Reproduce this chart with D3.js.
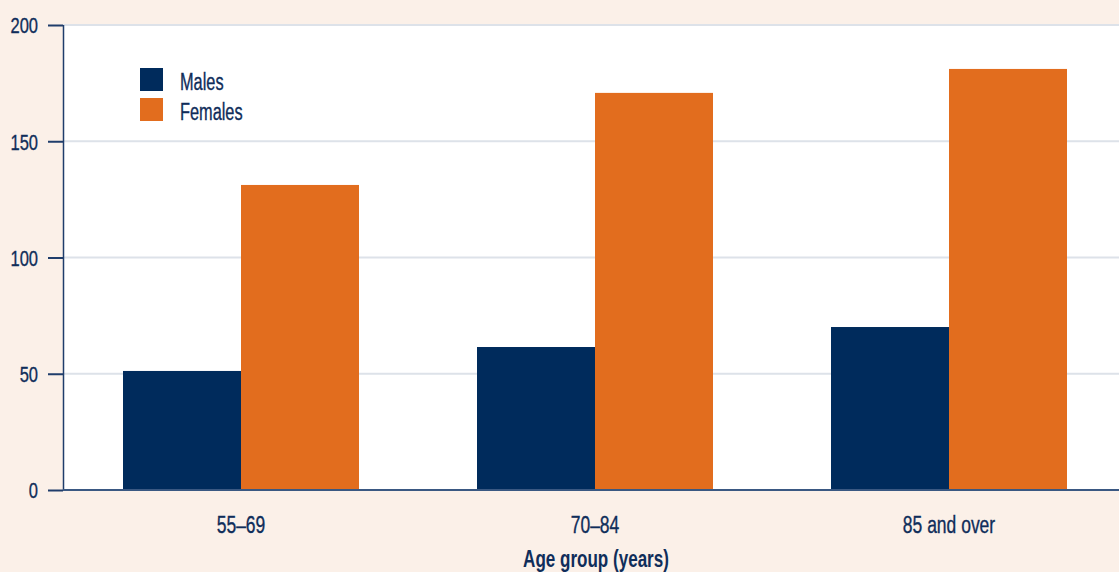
<!DOCTYPE html>
<html><head><meta charset="utf-8">
<script src="https://cdn.jsdelivr.net/npm/d3@7"></script>
<style>
html,body{margin:0;padding:0;background:#fbf0e8;}
svg{display:block;}
text{font-family:"Liberation Sans","Arial",sans-serif;fill:#0f2d5a;}
text.reg{stroke:#0f2d5a;stroke-width:0.35px;}
</style></head><body>
<svg id="c" width="1119" height="572"></svg>
<script>
const categories = ["55\u201369", "70\u201384", "85 and over"];
const seriesNames = ["Males", "Females"];
const males = [51.2, 61.5, 70.1];
const females = [131.2, 170.8, 181.1];
const yTicks = [0, 50, 100, 150, 200];
const xTitle = "Age group (years)";
const colors = ["#002b5c", "#e26d1e"];

(function(){
const svg = d3.select("#c");
const W = 1119, H = 572;
const mLeft = 63, mTop = 25, mBottom = 490;
const step = 354;

// condense text horizontally to mimic a condensed face
function condense(sel, f) {
  sel.each(function() {
    const len = this.getComputedTextLength();
    d3.select(this).attr("textLength", len * f).attr("lengthAdjust", "spacingAndGlyphs");
  });
}

const x = d3.scaleBand().domain(categories)
  .range([mLeft + 1, mLeft + 1 + step * categories.length])
  .paddingInner(1/3).paddingOuter(1/6);
const xs = d3.scaleBand().domain(seriesNames).range([0, x.bandwidth()]);
const y = d3.scaleLinear().domain([0, 200]).range([mBottom, mTop]);

svg.append("rect").attr("x", mLeft).attr("y", mTop).attr("width", W - mLeft).attr("height", mBottom - mTop).attr("fill", "#ffffff");

// gridlines
svg.append("g").selectAll("line").data(yTicks.filter(d => d > 0)).join("line")
  .attr("x1", mLeft).attr("x2", W).attr("y1", d => y(d)).attr("y2", d => y(d))
  .attr("stroke", "#dde2e9").attr("stroke-width", 2);

// bars
const data = categories.map((c, i) => ({c, vals: [males[i], females[i]]}));
const g = svg.append("g");
data.forEach(d => {
  d.vals.forEach((v, j) => {
    g.append("rect")
      .attr("x", x(d.c) + xs(seriesNames[j]))
      .attr("y", y(v))
      .attr("width", xs.bandwidth())
      .attr("height", y(0) - y(v))
      .attr("fill", colors[j]);
  });
});

// y axis
const yAxis = d3.axisLeft(y).tickValues(yTicks).tickSize(15).tickPadding(10).tickFormat(d3.format("d"));
const ya = svg.append("g").attr("transform", `translate(${mLeft},0)`).call(yAxis);
ya.select(".domain").attr("stroke", "#1f3d6b").attr("stroke-width", 1.5).attr("d", `M0.5,${mTop}V${mBottom}`);
ya.selectAll(".tick line").attr("stroke", "#1f3d6b").attr("stroke-width", 2);
ya.selectAll(".tick text").attr("class", "reg").attr("font-family", null).style("font-size", "22px").attr("fill", "#0f2d5a").attr("dy", "0.36em")
  .call(condense, 0.75);

// x axis
const xAxis = d3.axisBottom(x).tickSize(0);
const xa = svg.append("g").attr("transform", `translate(0,${mBottom})`).call(xAxis);
xa.select(".domain").attr("stroke", "#3a5882").attr("stroke-width", 2).attr("d", `M${mLeft},0H${W}`);
xa.selectAll(".tick text").attr("class", "reg").attr("font-family", null).style("font-size", "23px").attr("fill", "#0f2d5a").attr("y", 43).attr("dy", null)
  .call(condense, 0.76);

// x title
svg.append("text").attr("x", 596).attr("y", 567).attr("text-anchor", "middle")
  .style("font-size", "24px").style("font-weight", "bold").text(xTitle)
  .call(condense, 0.71);

// legend
const lg = svg.append("g");
seriesNames.forEach((s, i) => {
  lg.append("rect").attr("x", 140).attr("y", 68 + i * 30).attr("width", 23).attr("height", 23).attr("fill", colors[i]);
  lg.append("text").attr("class", "reg").attr("x", 180).attr("y", 90 + i * 30).style("font-size", "23px").text(s)
    .call(condense, 0.71);
});
})();
</script>
</body></html>
